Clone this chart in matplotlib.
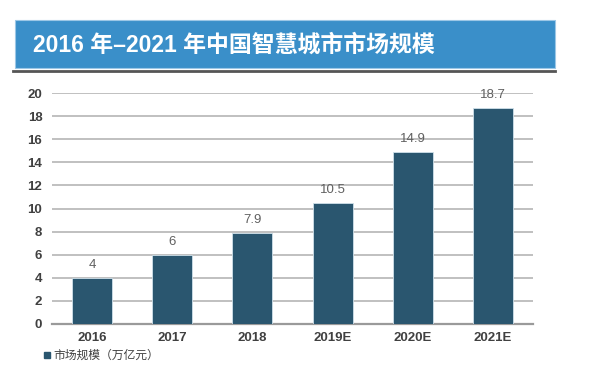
import matplotlib
matplotlib.use("Agg")
import matplotlib.pyplot as plt
from matplotlib.patches import Rectangle
from matplotlib.lines import Line2D

plt.rcParams['font.family'] = ['Liberation Sans', 'Noto Sans CJK SC', 'DejaVu Sans']

categories = ["2016", "2017", "2018", "2019E", "2020E", "2021E"]
values = [4, 6, 7.9, 10.5, 14.9, 18.7]
value_labels = ["4", "6", "7.9", "10.5", "14.9", "18.7"]
yticks = [0, 2, 4, 6, 8, 10, 12, 14, 16, 18, 20]
title = "2016 年–2021 年中国智慧城市市场规模"
legend_label = "市场规模（万亿元）"

W, H = 600, 380
fig = plt.figure(figsize=(6, 3.8), dpi=100)
fig.patch.set_facecolor("white")

# banner
fig.patches.append(Rectangle((15 / W, 1 - 68 / H), 540 / W, 48 / H,
                             transform=fig.transFigure, facecolor="#3a8fc9",
                             edgecolor="#9cc7e6", linewidth=0.8, zorder=1))
fig.add_artist(Line2D([13 / W, 555 / W], [1 - 70.5 / H, 1 - 70.5 / H],
                      transform=fig.transFigure, color="#555555", linewidth=2))
fig.text(33 / W, 1 - 45 / H, title, color="white", fontsize=16.5,
         fontweight="bold", va="center", ha="left")

ax = fig.add_axes([52 / W, 1 - 324 / H, 481 / W, 231 / H])
x = list(range(len(categories)))
bars = ax.bar(x, values, width=0.5, color="#2a566f", edgecolor="#cfe0ea",
              linewidth=0.6, zorder=3)
ax.set_xlim(-0.5, len(categories) - 0.5)
ax.set_ylim(0, 20)
ax.set_yticks(yticks)
ax.set_yticklabels([str(t) for t in yticks])
ax.set_xticks(x)
ax.set_xticklabels(categories)
ax.grid(axis="y", color="#b5b5b5", linewidth=1.2, zorder=0)
ax.set_axisbelow(True)
for s in ["top", "right", "left"]:
    ax.spines[s].set_visible(False)
ax.spines["bottom"].set_color("#9a9a9a")
ax.spines["bottom"].set_linewidth(1.6)
ax.tick_params(axis="both", length=0, labelsize=9.5, colors="#404040")
ax.tick_params(axis="y", pad=7)
ax.tick_params(axis="x", pad=6)
for lab in ax.get_xticklabels() + ax.get_yticklabels():
    lab.set_fontweight("bold")

for xi, v, t in zip(x, values, value_labels):
    ax.annotate(t, (xi, v), xytext=(0, 5), textcoords="offset points",
                ha="center", va="bottom", fontsize=9.5, color="#606060")

handle = Line2D([], [], marker="s", linestyle="none", color="#2a566f", markersize=4)
fig.legend([handle], [legend_label], loc="center left",
           bbox_to_anchor=(30 / W, 1 - 356 / H), frameon=False,
           fontsize=8.5, handletextpad=0.1, handlelength=1.0,
           labelcolor="#404040")

fig.savefig("out.png", dpi=100)
